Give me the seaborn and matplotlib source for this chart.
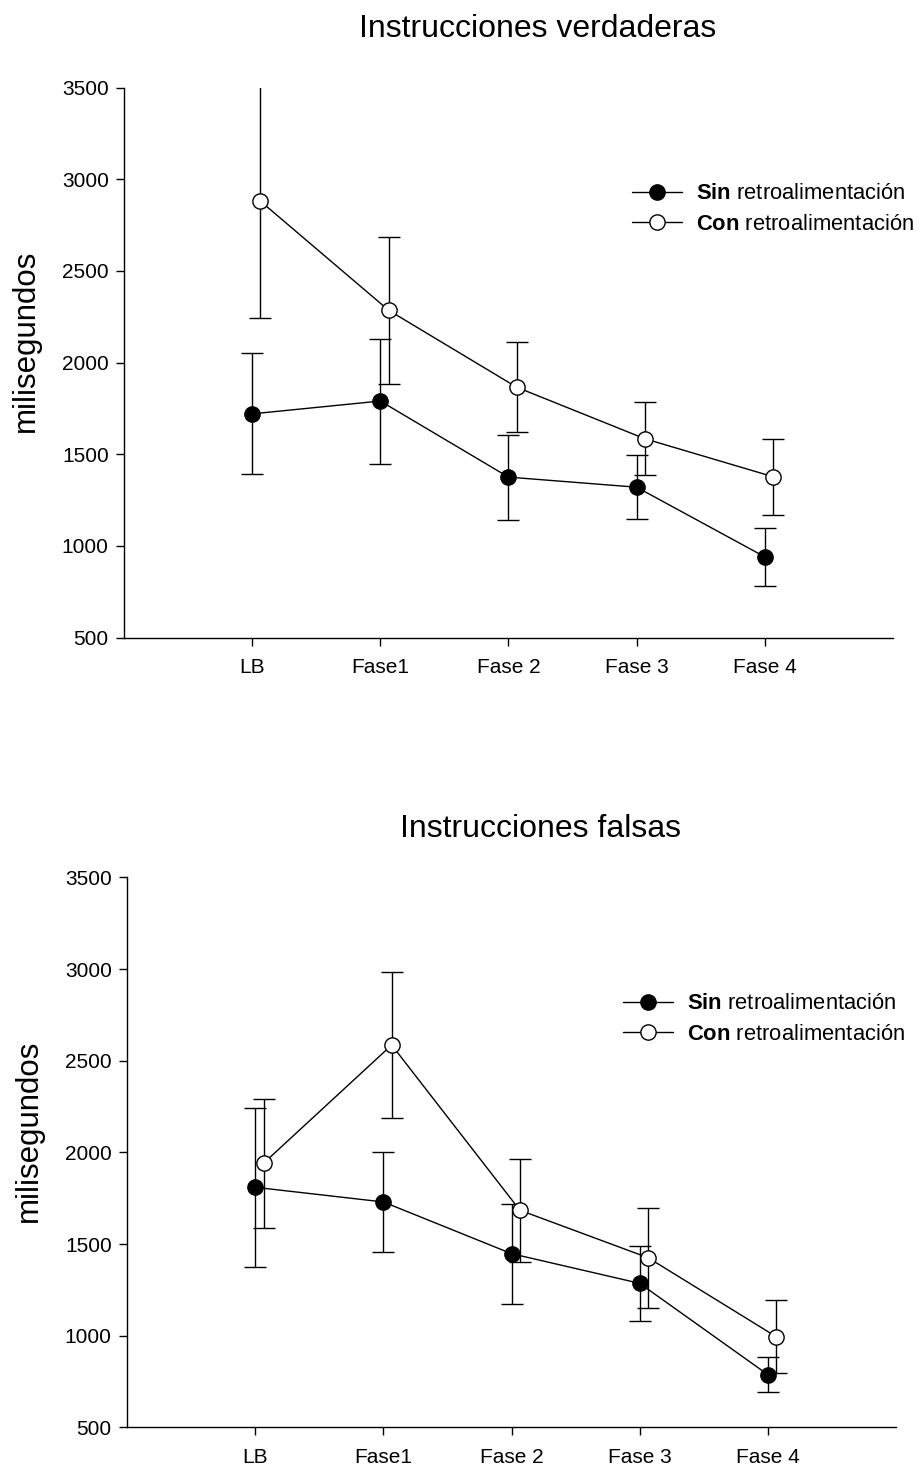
import numpy as np
import pandas as pd
import matplotlib
matplotlib.use("Agg")
import matplotlib.pyplot as plt
from matplotlib.lines import Line2D
import seaborn as sns

# Phases on the x axis
phases = ["LB", "Fase1", "Fase 2", "Fase 3", "Fase 4"]

# Mean response times (ms) and error-bar half widths, true instructions
verd_sin = [1720, 1790, 1375, 1320, 940]
verd_sin_err = [330, 341, 232, 175, 160]
verd_con = [2880, 2285, 1865, 1584, 1377]
verd_con_err = [636, 402, 245, 199, 207]

# Mean response times (ms) and error-bar half widths, false instructions
fals_sin = [1810, 1730, 1448, 1286, 788]
fals_sin_err = [435, 272, 273, 205, 96]
fals_con = [1941, 2586, 1685, 1426, 995]
fals_con_err = [353, 398, 282, 272, 198]

sns.set_theme(style="white")
plt.rcParams["font.family"] = ["Liberation Sans", "DejaVu Sans"]
plt.rcParams["mathtext.fontset"] = "custom"
plt.rcParams["mathtext.rm"] = "Liberation Sans"
plt.rcParams["mathtext.bf"] = "Liberation Sans:bold"
for key in ["text.color", "axes.labelcolor", "xtick.color", "ytick.color"]:
    plt.rcParams[key] = "black"

fig = plt.figure(figsize=(9.23, 14.71), dpi=100)
ax_top = fig.add_axes([0.1343, 0.5666, 0.8332, 0.3739])
ax_bot = fig.add_axes([0.1376, 0.0296, 0.8332, 0.3739])

base = np.arange(1, len(phases) + 1)
shift = 0.065
H = 1471.0


def draw_panel(ax, sin, sin_err, con, con_err, title, title_xy, leg_anchor):
    df = pd.DataFrame({
        "x": np.concatenate([base, base + shift]),
        "ms": sin + con,
        "grupo": ["Sin"] * len(sin) + ["Con"] * len(con),
    })
    # error bars underneath the markers
    ax.errorbar(base, sin, yerr=sin_err, fmt="none", ecolor="black",
                elinewidth=1.0, capsize=8, capthick=1.0, zorder=2)
    ax.errorbar(base + shift, con, yerr=con_err, fmt="none", ecolor="black",
                elinewidth=1.0, capsize=8, capthick=1.0, zorder=2)
    sns.lineplot(data=df[df.grupo == "Sin"], x="x", y="ms", ax=ax,
                 color="black", lw=1.0, marker="o", markersize=11,
                 markerfacecolor="black", markeredgecolor="black",
                 markeredgewidth=1.0, zorder=3, legend=False)
    sns.lineplot(data=df[df.grupo == "Con"], x="x", y="ms", ax=ax,
                 color="black", lw=1.0, marker="o", markersize=11,
                 markerfacecolor="white", markeredgecolor="black",
                 markeredgewidth=1.0, zorder=4, legend=False)

    ax.set_xlim(0, 6)
    ax.set_ylim(500, 3500)
    ax.set_xticks(base)
    ax.set_xticklabels(phases, fontsize=15)
    ax.set_yticks(np.arange(500, 3501, 500))
    ax.tick_params(axis="y", labelsize=15, direction="out", length=6,
                   width=1.0, left=True, pad=5)
    ax.tick_params(axis="x", labelsize=15, direction="out", length=6,
                   width=1.0, bottom=True, pad=9)
    ax.set_xlabel("")
    ax.set_ylabel("milisegundos", fontsize=22.5)
    ax.yaxis.set_label_coords(-0.128, 0.54)
    ax.yaxis.label.set_va("center")
    for side in ["top", "right"]:
        ax.spines[side].set_visible(False)
    for side in ["left", "bottom"]:
        ax.spines[side].set_color("black")
        ax.spines[side].set_linewidth(1.0)
    ax.grid(False)

    fig.text(title_xy[0], title_xy[1], title, fontsize=23,
             ha="center", va="baseline")

    handles = [
        Line2D([], [], color="black", lw=1.0, marker="o", markersize=11,
               markerfacecolor="black", markeredgecolor="black"),
        Line2D([], [], color="black", lw=1.0, marker="o", markersize=11,
               markerfacecolor="white", markeredgecolor="black"),
    ]
    labels = [r"$\bf{Sin}$ retroalimentación", r"$\bf{Con}$ retroalimentación"]
    fig.legend(handles, labels, loc="center left", bbox_to_anchor=leg_anchor,
               bbox_transform=fig.transFigure, frameon=False, fontsize=15.8,
               handlelength=2.3, handletextpad=0.62, labelspacing=0.42,
               borderpad=0, borderaxespad=0)


draw_panel(ax_top, verd_sin, verd_sin_err, verd_con, verd_con_err,
           "Instrucciones verdaderas", (537.5 / 923, 1 - 37 / H),
           (632 / 923, 1 - 209 / H))
draw_panel(ax_bot, fals_sin, fals_sin_err, fals_con, fals_con_err,
           "Instrucciones falsas", (540 / 923, 1 - 837 / H),
           (623 / 923, 1 - 1019 / H))

fig.savefig("out.png", dpi=100)
